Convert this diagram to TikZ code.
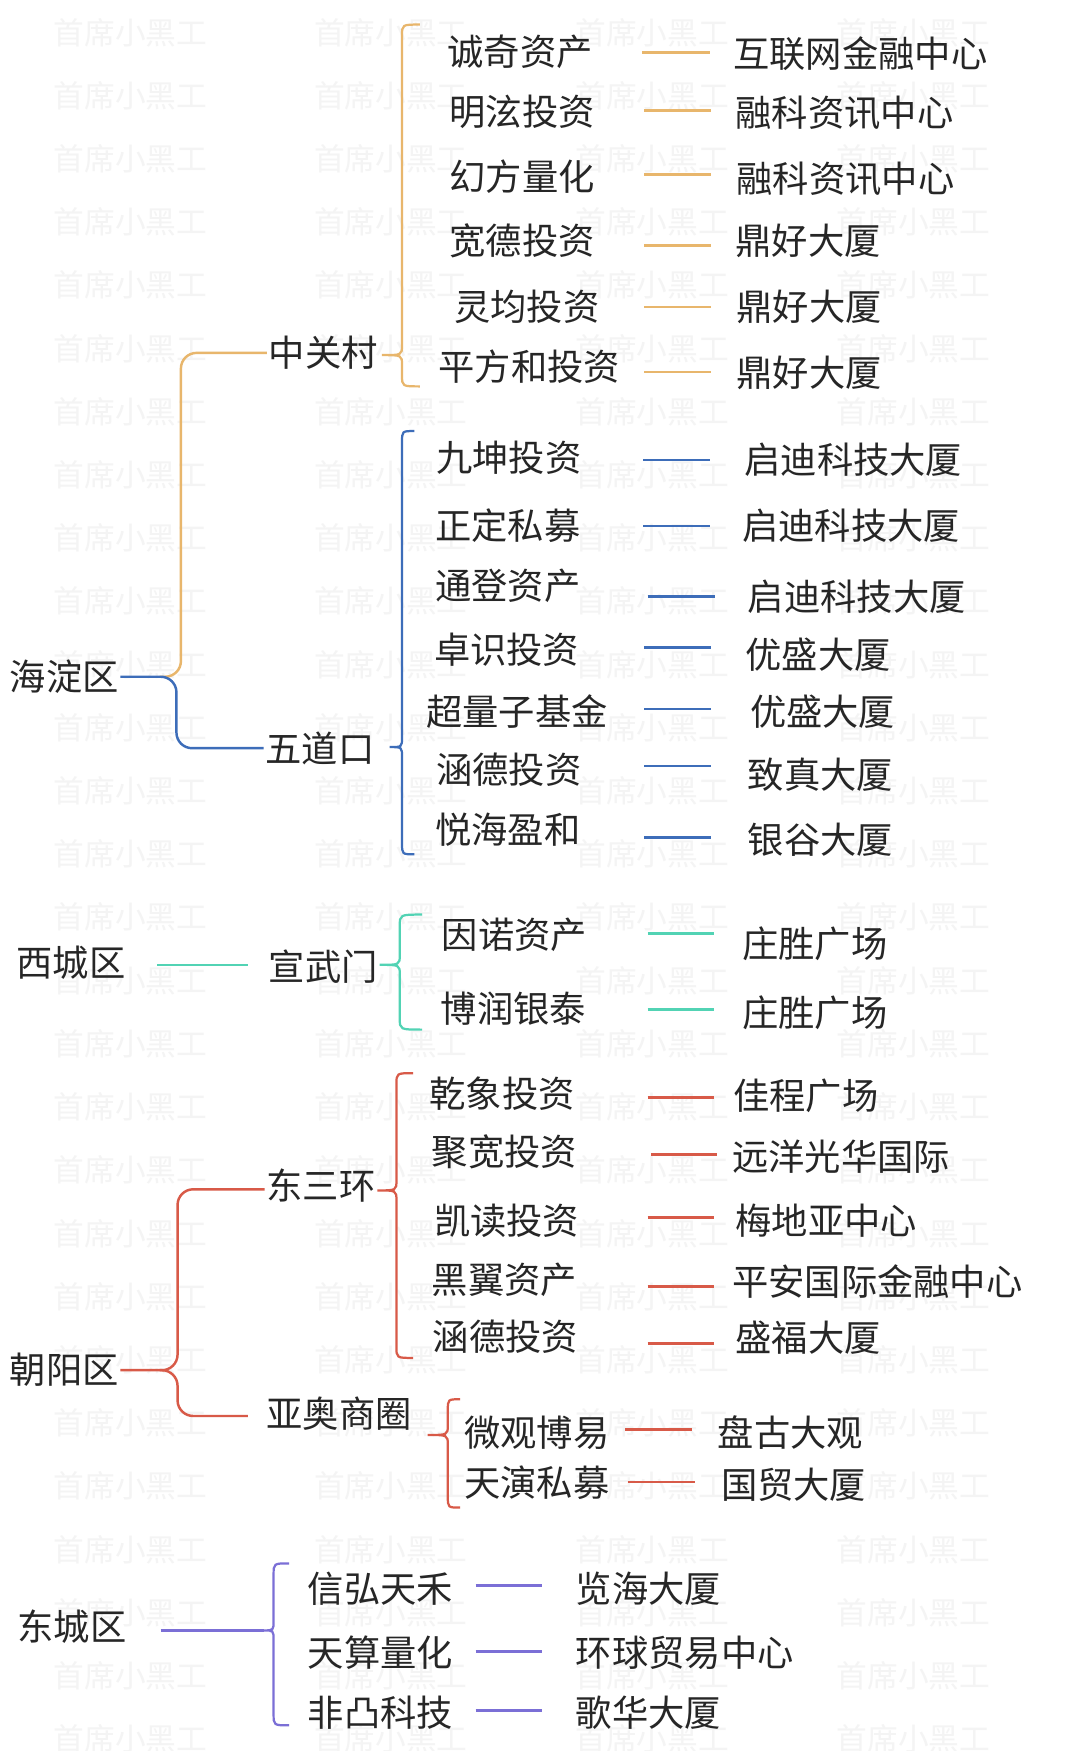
\documentclass[tikz,border=0pt]{standalone}
\usepackage{fontspec}
\newfontfamily\cjk{Noto Sans CJK SC}
\usetikzlibrary{calc}
\definecolor{corange}{HTML}{E8B66C}
\definecolor{cblue}{HTML}{3D6DB9}
\definecolor{cteal}{HTML}{52D3B4}
\definecolor{cred}{HTML}{D85A48}
\definecolor{cpurple}{HTML}{7B6FD6}
\definecolor{ctext}{HTML}{262626}
\definecolor{cwm}{HTML}{F4F4F4}
\tikzset{
  txt/.style={font=\cjk\fontsize{32.5}{36}\selectfont, text=ctext, inner sep=1.5pt, anchor=west},
  wm/.style={font=\cjk\fontsize{27.5}{30}\selectfont, text=cwm, inner sep=0pt, anchor=west},
  conn/.style={line width=2.4pt, line cap=butt},
  brc/.style={line width=2pt},
  tree/.style={line width=2.2pt, rounded corners=14pt},
}
% color, x, top, tip, bottom, tipx, hookx
\newcommand\mybrc[7]{\draw[#1,brc] (#7,#3) .. controls (#2,#3) .. (#2,{#3+10}) -- (#2,{#4-9}) .. controls (#2,#4) .. (#6,#4) .. controls (#2,#4) .. (#2,{#4+9}) -- (#2,{#5-10}) .. controls (#2,#5) .. (#7,#5);}
% color, id, left text, lx/ly, line y, x1, x2, right text, rx/ry
\newcommand\pairrow[9]{%
  \node[txt] (#2a) at (#4) {#3};
  \node[txt] (#2b) at (#9) {#8};
  \coordinate (#2s) at (#6,#5);
  \coordinate (#2e) at (#7,#5);
  \draw[#1,conn] (#2s) -- (#2e);
}
\begin{document}
\begin{tikzpicture}[x=1pt,y=-1pt]
\fill[white] (0,0) rectangle (967,1568);
\useasboundingbox (0,0) rectangle (967,1568);
% watermark
\foreach \r in {0,...,27}{
  \foreach \c in {48,281,515,749}{
    \node[wm] at (\c,{29+56.6*\r}) {首席小黑工};
  }
}
% top-level nodes
\node[txt] (hd) at (7,606) {海淀区};
\node[txt] (zgc) at (239,316) {中关村};
\node[txt] (wdk) at (236,670) {五道口};
\node[txt] (xc) at (13,862) {西城区};
\node[txt] (xwm) at (239,866) {宣武门};
\node[txt] (cy) at (7,1227) {朝阳区};
\node[txt] (dsh) at (237,1062) {东三环};
\node[txt] (yao) at (237,1266) {亚奥商圈};
\node[txt] (dc) at (14,1457) {东城区};
\coordinate (ctip) at (236,1460);

% tree connectors
\draw[corange,tree] ($(hd.east)+(35,0)$) -| ($(zgc.west)+(-77,0)$) -- (zgc.west);
\draw[cblue,tree] (hd.east) -| ($(wdk.west)+(-78,0)$) -- (wdk.west);
\draw[cteal,conn] ($(xc.east)+(27,2)$) -- ($(xwm.west)+(-17,-2)$);
\draw[cred,tree] (cy.east) -| ($(dsh.west)+(-78,3)$) -- ($(dsh.west)+(0,3)$);
\draw[cred,tree] ($(cy.east)+(35,0)$) -| ($(yao.west)+(-78,2)$) -- ($(yao.west)+(-15,2)$);
\draw[cpurple,conn] ($(dc.east)+(29,3)$) -- (ctip);

% braces
\mybrc{corange}{360}{22}{318}{346}{342}{376}
\mybrc{cblue}{360}{386}{669}{765}{349}{371}
\mybrc{cteal}{358}{819}{864}{922}{340}{378}
\mybrc{cred}{355}{961}{1066}{1216}{338}{370}
\mybrc{cred}{401}{1253}{1285}{1350}{383}{412}
\mybrc{cpurple}{245}{1400}{1460}{1545}{236}{259}

% 中关村
\pairrow{corange}{z1}{诚奇资产}{399,46}{47}{575}{636}{互联网金融中心}{655,48}
\pairrow{corange}{z2}{明泫投资}{401,100}{99}{577}{637}{融科资讯中心}{657,101}
\pairrow{corange}{z3}{幻方量化}{401,158}{156}{577}{637}{融科资讯中心}{658,160}
\pairrow{corange}{z4}{宽德投资}{401,216}{220}{577}{637}{鼎好大厦}{657,216}
\pairrow{corange}{z5}{灵均投资}{405,275}{275}{577}{637}{鼎好大厦}{658,275}
\pairrow{corange}{z6}{平方和投资}{391,328}{333}{577}{637}{鼎好大厦}{658,334}
% 五道口
\pairrow{cblue}{w1}{九坤投资}{389,410}{412}{576}{636}{启迪科技大厦}{665,412}
\pairrow{cblue}{w2}{正定私募}{388,471}{471}{576}{636}{启迪科技大厦}{663,471}
\pairrow{cblue}{w3}{通登资产}{388,525}{534}{580}{640}{启迪科技大厦}{668,534}
\pairrow{cblue}{w4}{卓识投资}{387,582}{580}{577}{637}{优盛大厦}{666,586}
\pairrow{cblue}{w5}{超量子基金}{380,637}{635}{577}{637}{优盛大厦}{670,637}
\pairrow{cblue}{w6}{涵德投资}{389,689}{686}{577}{637}{致真大厦}{668,694}
\pairrow{cblue}{w7}{悦海盈和}{388,743}{750}{577}{637}{银谷大厦}{668,752}
% 宣武门
\pairrow{cteal}{x1}{因诺资产}{394,837}{836}{580}{639}{庄胜广场}{663,845}
\pairrow{cteal}{x2}{博润银泰}{393,903}{904}{580}{639}{庄胜广场}{663,907}
% 东三环
\pairrow{cred}{d1}{乾象投资}{383,979}{983}{580}{639}{佳程广场}{655,981}
\pairrow{cred}{d2}{聚宽投资}{385,1031}{1034}{583}{642}{远洋光华国际}{654,1036}
\pairrow{cred}{d3}{凯读投资}{387,1093}{1090}{580}{639}{梅地亚中心}{657,1093}
\pairrow{cred}{d4}{黑翼资产}{385,1146}{1152}{580}{639}{平安国际金融中心}{654,1148}
\pairrow{cred}{d5}{涵德投资}{386,1197}{1203}{580}{639}{盛福大厦}{657,1198}
% 亚奥商圈
\pairrow{cred}{y1}{微观博易}{414,1283}{1280}{560}{620}{盘古大观}{641,1283}
\pairrow{cred}{y2}{天演私募}{414,1328}{1327}{562}{622}{国贸大厦}{644,1330}
% 东城区
\pairrow{cpurple}{e1}{信弘天禾}{274,1423}{1420}{426}{485}{览海大厦}{514,1423}
\pairrow{cpurple}{e2}{天算量化}{274,1480}{1479}{426}{485}{环球贸易中心}{514,1480}
\pairrow{cpurple}{e3}{非凸科技}{274,1534}{1532}{426}{485}{歌华大厦}{514,1534}
\end{tikzpicture}
\end{document}
